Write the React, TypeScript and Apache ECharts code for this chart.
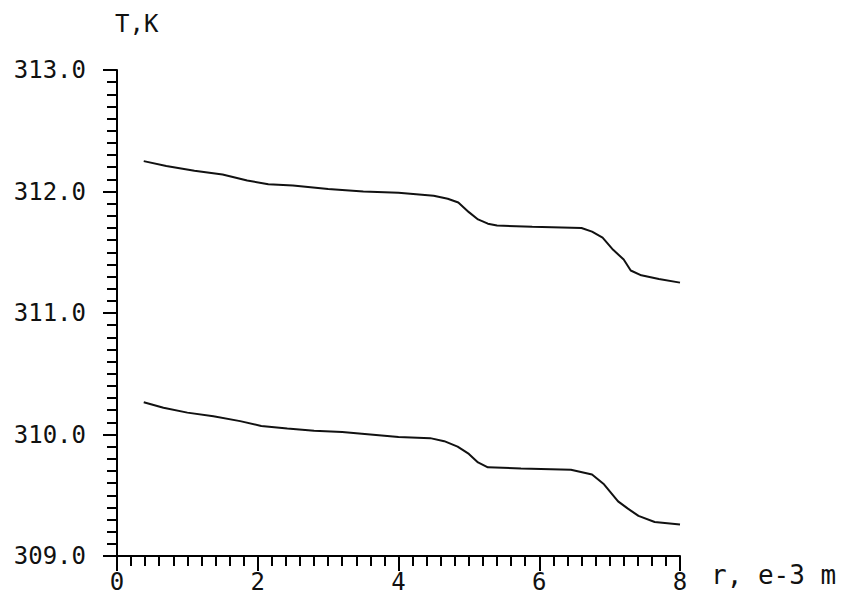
import React, { useEffect, useRef } from "react";
import * as echarts from "echarts";

const rUpper = [0.38, 0.7, 1.1, 1.5, 1.85, 2.15, 2.5, 3.0, 3.5, 4.0, 4.5, 4.7, 4.85, 5.0, 5.13, 5.27, 5.4, 5.9, 6.6, 6.75, 6.9, 7.05, 7.2, 7.3, 7.45, 7.7, 8.0];
const tUpper = [312.25, 312.21, 312.17, 312.14, 312.09, 312.06, 312.05, 312.02, 312.0, 311.99, 311.965, 311.94, 311.91, 311.83, 311.77, 311.735, 311.72, 311.71, 311.7, 311.67, 311.62, 311.52, 311.44, 311.35, 311.31, 311.28, 311.25];

const rLower = [0.38, 0.66, 1.0, 1.37, 1.75, 2.05, 2.42, 2.8, 3.2, 3.6, 4.0, 4.45, 4.65, 4.84, 5.0, 5.13, 5.27, 5.74, 6.45, 6.75, 6.92, 7.12, 7.26, 7.41, 7.64, 8.0];
const tLower = [310.265, 310.22, 310.18, 310.15, 310.11, 310.07, 310.05, 310.03, 310.02, 310.0, 309.98, 309.97, 309.945, 309.9, 309.84, 309.77, 309.73, 309.72, 309.71, 309.67, 309.59, 309.45, 309.39, 309.33, 309.28, 309.26];

const xTitle = "r, e-3 m";
const yTitle = "T,K";

const FONT = "DejaVu Sans Mono";

export default function App() {
  const ref = useRef<HTMLDivElement>(null);
  useEffect(() => {
    if (!ref.current) return;
    const chart = echarts.init(ref.current, undefined, { renderer: "svg" });
    const lineCol = "#000";
    chart.setOption({
      animation: false,
      backgroundColor: "#fff",
      grid: { left: 117, right: 165, top: 70, bottom: 40, containLabel: false },
      xAxis: {
        type: "value",
        min: 0,
        max: 8,
        interval: 2,
        axisLine: { show: true, onZero: false, lineStyle: { color: lineCol, width: 2 } },
        axisTick: { show: true, length: 15, lineStyle: { color: lineCol, width: 2 } },
        minorTick: { show: true, splitNumber: 10, length: 10, lineStyle: { color: lineCol, width: 2 } },
        splitLine: { show: false },
        minorSplitLine: { show: false },
        axisLabel: { color: "#111", fontFamily: FONT, fontSize: 24, margin: 14 },
      },
      yAxis: {
        type: "value",
        min: 309,
        max: 313,
        interval: 1,
        axisLine: { show: true, onZero: false, lineStyle: { color: lineCol, width: 2 } },
        axisTick: { show: true, length: 14, lineStyle: { color: lineCol, width: 2 } },
        minorTick: { show: true, splitNumber: 10, length: 10, lineStyle: { color: lineCol, width: 2 } },
        splitLine: { show: false },
        minorSplitLine: { show: false },
        axisLabel: {
          color: "#111",
          fontFamily: FONT,
          fontSize: 24,
          margin: 31,
          formatter: (v: number) => v.toFixed(1),
        },
      },
      graphic: [
        {
          type: "text",
          left: 115,
          top: 12,
          style: { text: yTitle, fill: "#111", font: `24px "${FONT}"` },
        },
        {
          type: "text",
          left: 711,
          top: 562,
          style: { text: xTitle, fill: "#111", font: `26px "${FONT}"` },
        },
      ],
      series: [
        {
          type: "line",
          data: rUpper.map((r, i) => [r, tUpper[i]]),
          showSymbol: false,
          symbol: "none",
          lineStyle: { color: "#111", width: 2 },
        },
        {
          type: "line",
          data: rLower.map((r, i) => [r, tLower[i]]),
          showSymbol: false,
          symbol: "none",
          lineStyle: { color: "#111", width: 2 },
        },
      ],
    });
    return () => chart.dispose();
  }, []);
  return (
    <div
      ref={ref}
      style={{ position: "fixed", left: 0, top: 0, width: 845, height: 596, background: "#fff" }}
    />
  );
}
